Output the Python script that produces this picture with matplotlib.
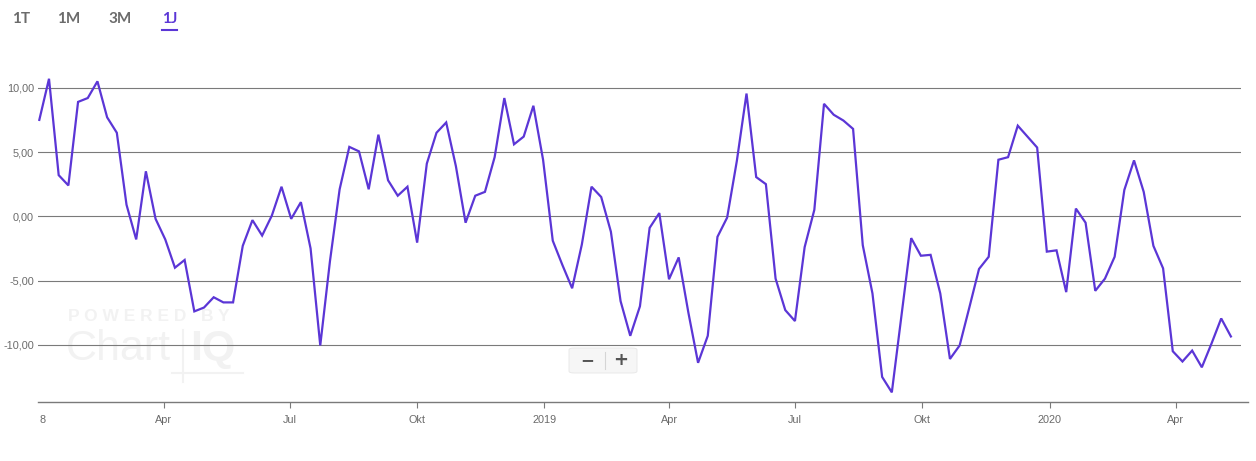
import matplotlib
matplotlib.use("Agg")
import matplotlib.pyplot as plt
import matplotlib.dates as mdates
from matplotlib.patches import FancyBboxPatch
import pandas as pd

# ---- data ----
start_date = "2018-01-01"
values = [
    7.5, 10.7, 3.2, 2.4, 8.9, 9.2, 10.5, 7.7, 6.5, 0.9,
    -1.8, 3.5, -0.2, -1.8, -4.0, -3.4, -7.4, -7.1, -6.3, -6.7,
    -6.7, -2.3, -0.3, -1.5, 0.05, 2.3, -0.2, 1.1, -2.5, -10.05,
    -3.5, 2.1, 5.4, 5.05, 2.1, 6.35, 2.8, 1.6, 2.3, -2.05,
    4.1, 6.5, 7.3, 3.9, -0.5, 1.6, 1.9, 4.6, 9.2, 5.6,
    6.2, 8.6, 4.4, -1.9, -3.8, -5.6, -2.2, 2.3, 1.5, -1.2,
    -6.6, -9.3, -7.0, -0.9, 0.25, -4.9, -3.2, -7.5, -11.4, -9.3,
    -1.6, -0.1, 4.3, 9.55, 3.05, 2.5, -4.85, -7.3, -8.15, -2.4,
    0.5, 8.75, 7.9, 7.45, 6.8, -2.25, -6.0, -12.5, -13.7, -7.7,
    -1.7, -3.07, -3.0, -6.0, -11.1, -10.05, -7.1, -4.1, -3.15, 4.4,
    4.6, 7.05, 6.2, 5.35, -2.75, -2.65, -5.9, 0.6, -0.5, -5.8,
    -4.85, -3.15, 2.05, 4.35, 1.9, -2.3, -4.05, -10.5, -11.3, -10.45,
    -11.75, -9.9, -7.95, -9.35,
]
dates = pd.date_range(start_date, periods=len(values), freq="7D")

xtick_dates = ["2018-01-01", "2018-04-01", "2018-07-01", "2018-10-01", "2019-01-01",
               "2019-04-01", "2019-07-01", "2019-10-01", "2020-01-01", "2020-04-01"]
xtick_labels = ["8", "Apr", "Jul", "Okt", "2019", "Apr", "Jul", "Okt", "2020", "Apr"]
ytick_values = [10, 5, 0, -5, -10]
ytick_labels = ["10,00", "5,00", "0,00", "-5,00", "-10,00"]
range_buttons = ["1T", "1M", "3M", "1J"]

# ---- figure ----
W, H = 1256, 461
fig = plt.figure(figsize=(W / 100, H / 100), dpi=100)
fig.patch.set_facecolor("white")

def fx(px):
    return px / W

def fy(py):
    return 1 - py / H

ax_l, ax_r, ax_t, ax_b = 38, 1241, 60, 402
ax = fig.add_axes([fx(ax_l), fy(ax_b), fx(ax_r) - fx(ax_l), fy(ax_t) - fy(ax_b)])
ax.set_facecolor("none")

line_color = "#5b36d6"
ax.plot(dates, values, color=line_color, lw=1.6, solid_joinstyle="miter", zorder=3)

t0 = pd.Timestamp(start_date)
ax.set_xlim(mdates.date2num(t0 - pd.Timedelta(days=0.95)),
            mdates.date2num(t0 + pd.Timedelta(days=868.3)))
ax.set_ylim(-14.45, 12.16)

for v in ytick_values:
    ax.axhline(v, color="#7a7a7a", lw=0.8, zorder=1)

for s in ax.spines.values():
    s.set_visible(False)

# bottom axis line extends a bit beyond the grid
ax.plot([0, (1248 - ax_l) / (ax_r - ax_l)], [0, 0], transform=ax.transAxes,
        color="#7a7a7a", lw=1.0, clip_on=False, zorder=2)

ax.set_yticks(ytick_values)
ax.set_yticklabels(ytick_labels)
ax.tick_params(axis="y", length=0, pad=3, labelsize=7.8, labelcolor="#6a6a6a")

ax.set_xticks([mdates.date2num(pd.Timestamp(d)) for d in xtick_dates])
ax.set_xticklabels(xtick_labels)
ax.tick_params(axis="x", length=4, width=0.8, color="#7a7a7a", pad=5,
               labelsize=7.8, labelcolor="#6a6a6a", direction="out")
ax.xaxis.get_major_ticks()[0].tick1line.set_visible(False)
for lab in ax.get_xticklabels() + ax.get_yticklabels():
    lab.set_fontfamily("Liberation Sans")
ax.get_xticklabels()[0].set_horizontalalignment("left")

# watermark (behind the line)
wm = "#f2f2f2"
fig.text(fx(68), fy(316), "P O W E R E D   B Y", fontsize=12.5, color=wm,
         fontweight="bold", family="Liberation Sans", va="center", ha="left", zorder=-1)
fig.text(fx(66), fy(349), "Chart", fontsize=31, color=wm,
         family="Liberation Sans", va="center", ha="left", zorder=-1)
fig.text(fx(190), fy(349), "IQ", fontsize=31, color=wm, fontweight="bold",
         family="Liberation Sans", va="center", ha="left", zorder=-1)
fig.add_artist(plt.Line2D([fx(183), fx(183)], [fy(330), fy(382)], color=wm, lw=1.5, zorder=-1))
fig.add_artist(plt.Line2D([fx(172), fx(243)], [fy(373), fy(373)], color=wm, lw=1.5, zorder=-1))

# range buttons
btn_x = [12, 57, 108, 162]
for lbl, bx in zip(range_buttons, btn_x):
    col = line_color if lbl == "1J" else "#6b6b6b"
    fig.text(fx(bx), fy(19), lbl, fontsize=11, fontweight="bold", color=col,
             family="Lato", va="center", ha="left")
fig.add_artist(plt.Line2D([fx(162), fx(177)], [fy(30), fy(30)], color=line_color, lw=1.5))

# zoom widget
box = FancyBboxPatch((fx(569), fy(373)), fx(637) - fx(569), fy(348) - fy(373),
                     boxstyle="round,pad=0,rounding_size=0.004", transform=fig.transFigure,
                     facecolor="#f6f6f6", edgecolor="#e6e6e6", lw=0.6, zorder=5)
fig.add_artist(box)
fig.add_artist(plt.Line2D([fx(605), fx(605)], [fy(352), fy(369)], color="#d5d5d5", lw=0.8, zorder=6))
fig.text(fx(587), fy(360), "\u2212", fontsize=12, fontweight="bold", color="#555555",
         ha="center", va="center", zorder=7, family="DejaVu Sans")
fig.text(fx(621), fy(360), "+", fontsize=13, fontweight="bold", color="#555555",
         ha="center", va="center", zorder=7, family="DejaVu Sans")

fig.savefig("out.png", dpi=100, facecolor="white")
